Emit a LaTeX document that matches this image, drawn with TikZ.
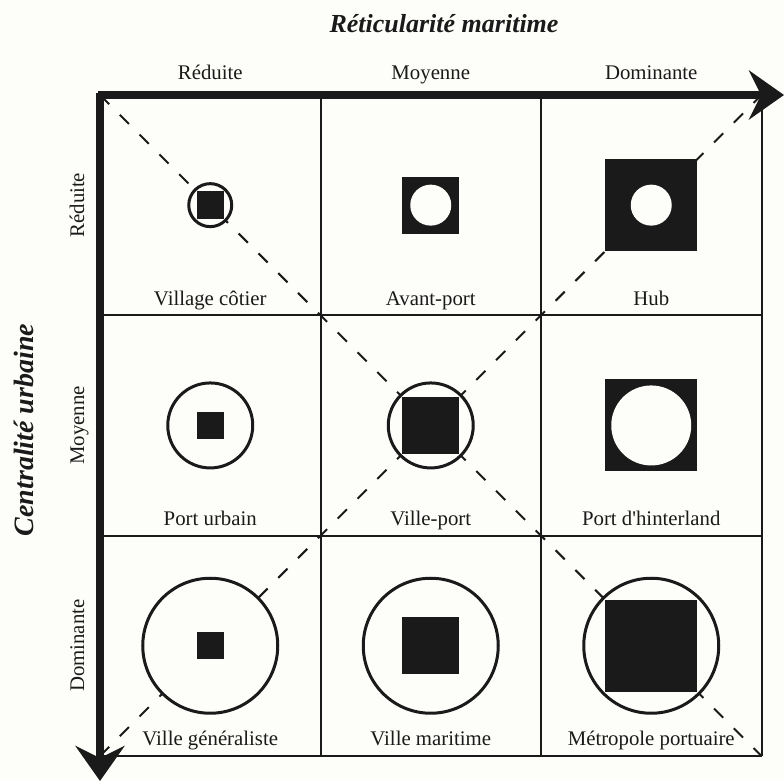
\documentclass[tikz,border=0pt]{standalone}
\usepackage{fontspec}
\setmainfont{Liberation Serif}
\usetikzlibrary{arrows.meta}
\definecolor{paper}{RGB}{253,253,250}
\definecolor{ink}{RGB}{26,26,26}
\begin{document}
\begin{tikzpicture}[x=.5pt,y=-.5pt,
  axis/.style={line width=4.3pt,ink,-{Stealth[length=17.5pt,width=24.5pt,inset=6pt]}},
  diag/.style={line width=1pt,ink,dash pattern=on 6.5pt off 7.5pt},
  ring/.style={circle,draw=ink,line width=1.5pt,fill=paper,inner sep=0pt},
  block/.style={rectangle,fill=ink,inner sep=0pt},
  hole/.style={circle,fill=paper,inner sep=0pt},
  lab/.style={anchor=base,inner sep=0pt,text=ink,font=\fontsize{10.4}{12}\selectfont},
  ttl/.style={anchor=base,inner sep=0pt,text=ink,font=\fontsize{13}{15}\selectfont\bfseries\itshape}]
\fill[paper] (0,0) rectangle (784,781);
\useasboundingbox (0,0) rectangle (784,781);
\coordinate (tl) at (100,95); \coordinate (tr) at (761.5,95);
\coordinate (bl) at (100,756); \coordinate (br) at (761.5,756);
\draw[diag] (tl) -- (br); \draw[diag] (bl) -- (tr);
\foreach \i in {1,2,3}{
  \draw[line width=1pt,ink] (100+220.5*\i,95) -- (100+220.5*\i,756);
  \draw[line width=1pt,ink] (100,95+220.3*\i) -- (761.5,95+220.3*\i);}
\draw[axis] (97.85,95) -- (784,95);
\draw[axis] (100,92.85) -- (100,781);
% symboles
\node[ring,minimum size=21.5pt] (vc) at (210.25,205.15) {}; \node[block,minimum size=13.75pt] (vc-sq) at (vc) {};
\node[block,minimum size=28.5pt] (ap) at (430.75,205.15) {}; \node[hole,minimum size=20.5pt] (ap-o) at (ap) {};
\node[block,minimum size=46pt] (hub) at (651.25,205.15) {}; \node[hole,minimum size=20.5pt] (hub-o) at (hub) {};
\node[ring,minimum size=42.5pt] (pu) at (210.25,425.45) {}; \node[block,minimum size=13.75pt] (pu-sq) at (pu) {};
\node[ring,minimum size=42.5pt] (vp) at (430.75,425.45) {}; \node[block,minimum size=28.5pt] (vp-sq) at (vp) {};
\node[block,minimum size=46pt] (ph) at (651.25,425.45) {}; \node[hole,minimum size=40pt] (ph-o) at (ph) {};
\node[ring,minimum size=67.5pt] (vg) at (210.25,645.75) {}; \node[block,minimum size=13.75pt] (vg-sq) at (vg) {};
\node[ring,minimum size=67.5pt] (vm) at (430.75,645.75) {}; \node[block,minimum size=28.5pt] (vm-sq) at (vm) {};
\node[ring,minimum size=67.5pt] (mp) at (651.25,645.75) {}; \node[block,minimum size=46pt] (mp-sq) at (mp) {};
% libelles
\foreach \n/\col/\rw/\t in {vc/1/1/Village côtier,ap/2/1/Avant-port,hub/3/1/Hub,
  pu/1/2/Port urbain,vp/2/2/Ville-port,ph/3/2/Port d\textquotesingle hinterland,
  vg/1/3/Ville généraliste,vm/2/3/Ville maritime,mp/3/3/Métropole portuaire}
  \node[lab] (\n-t) at (220.5*\col-10.25,95+220.3*\rw-10) {\t};
\foreach \t [count=\k] in {Réduite,Moyenne,Dominante}{
  \node[lab] (col\k) at (220.5*\k-10.25,80) {\t};
  \node[lab,rotate=90] (row\k) at (84,220.3*\k-15.15) {\t};}
\node[ttl] (rm) at (444,33) {Réticularité maritime};
\node[ttl,rotate=90,font=\fontsize{14}{16}\selectfont\bfseries\itshape] (cu) at (33,430) {Centralité urbaine};
\end{tikzpicture}
\end{document}
